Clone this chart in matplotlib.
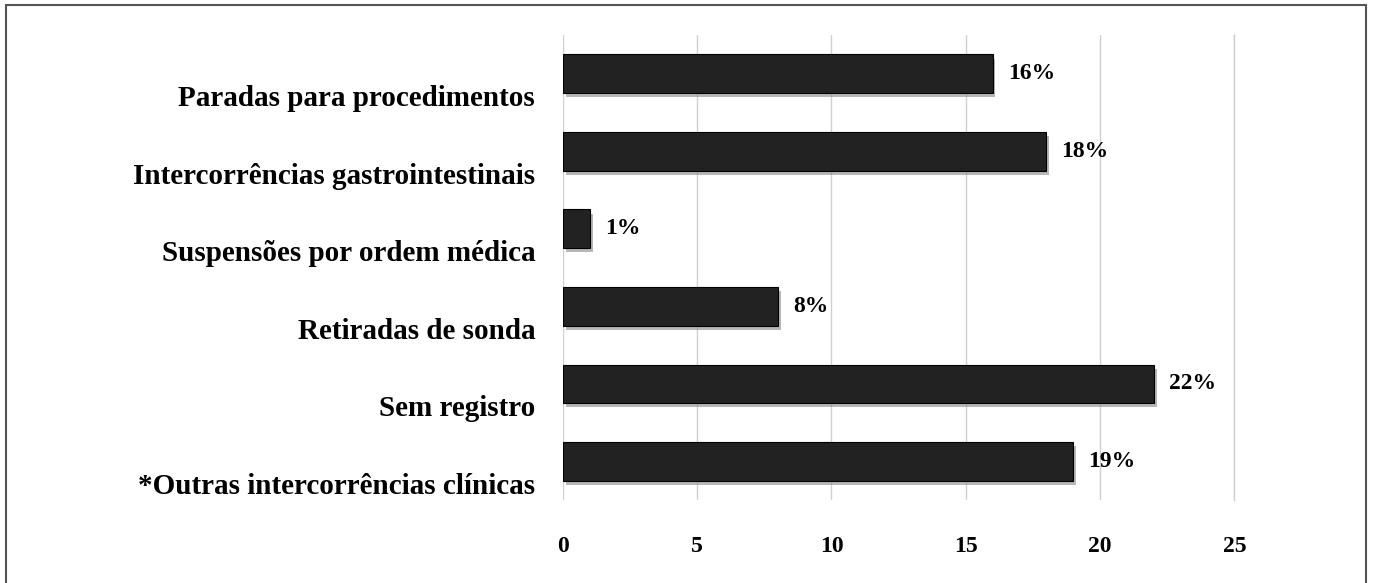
import matplotlib.pyplot as plt
import matplotlib.transforms as mtransforms
import matplotlib.patheffects as pe
from matplotlib.patches import Rectangle

categories = ['*Outras intercorrências clínicas', 'Sem registro', 'Retiradas de sonda',
              'Suspensões por ordem médica', 'Intercorrências gastrointestinais',
              'Paradas para procedimentos']
values = [19, 22, 8, 1, 18, 16]
labels = ['19%', '22%', '8%', '1%', '18%', '16%']
xticks = [0, 5, 10, 15, 20, 25]

plt.rcParams['font.family'] = 'Liberation Serif'
plt.rcParams['font.weight'] = 'bold'

fig = plt.figure(figsize=(13.73, 5.83), dpi=100)
ax = fig.add_axes([0.41, 0.142, 0.489, 0.798])

# bars with a soft grey shadow
shadow = [pe.SimplePatchShadow(offset=(2, -3), shadow_rgbFace='#888888', alpha=0.6), pe.Normal()]
bars = ax.barh(range(len(categories)), values, height=0.5, color='#222222',
               edgecolor='#000000', linewidth=0.8, zorder=3)
for b in bars:
    b.set_path_effects(shadow)

for i, (v, lab) in enumerate(zip(values, labels)):
    ax.annotate(lab, xy=(v, i), xytext=(11, 0), textcoords='offset points',
                va='center', ha='left', fontsize=17, fontweight='bold')

ax.set_xlim(0, 25)
ax.set_ylim(-0.5, 5.5)
ax.set_xticks(xticks)
ax.set_yticks(range(len(categories)))
ax.set_yticklabels(categories, fontsize=21, fontweight='bold')
ax.tick_params(axis='x', labelsize=17, length=0, pad=26)
ax.tick_params(axis='y', length=0, pad=20)
ax.grid(axis='x', color='#d0d0d0', linewidth=1, zorder=0)
for s in ax.spines.values():
    s.set_visible(False)
ax.axvline(25, color='#d0d0d0', linewidth=1, zorder=0, clip_on=False)

# category labels sit a bit lower than bar centres
offset = mtransforms.ScaledTranslation(0, -0.22, fig.dpi_scale_trans)
for t in ax.get_yticklabels():
    t.set_transform(t.get_transform() + offset)

# outer frame
fig.patches.append(Rectangle((6 / 1373, -0.01), 1360 / 1373, 1 - 5 / 583 + 0.01,
                             transform=fig.transFigure, fill=False,
                             edgecolor='#555555', linewidth=1.5))

fig.savefig('out.png', dpi=100)
